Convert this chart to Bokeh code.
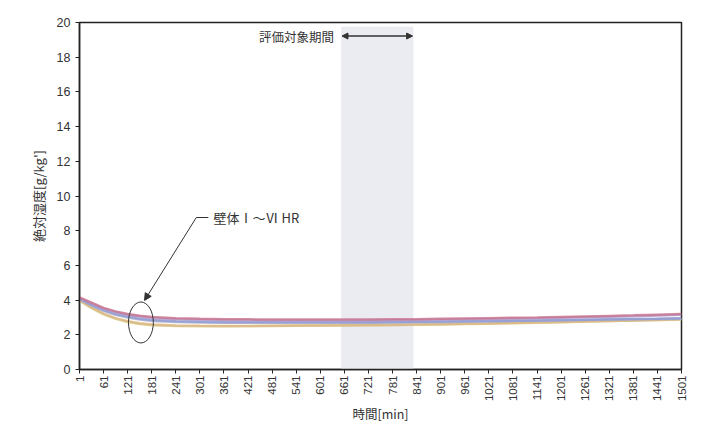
import math
from bokeh.plotting import figure
from bokeh.models import FixedTicker, Range1d, Arrow, NormalHead, Label
from bokeh.embed import file_html
from bokeh.resources import INLINE

# time [min]
t = [1, 31, 61, 91, 121, 151, 181, 241, 301, 361, 421, 481, 541, 601, 661,
     721, 781, 841, 901, 961, 1021, 1081, 1141, 1201, 1261, 1321, 1381, 1441, 1501]

# absolute humidity [g/kg'] for walls I..VI
hr_1 = [4.15, 3.85, 3.55, 3.35, 3.20, 3.10, 3.02, 2.95, 2.92, 2.90, 2.89, 2.88, 2.88, 2.88, 2.88,
        2.88, 2.89, 2.90, 2.92, 2.94, 2.96, 2.98, 3.00, 3.03, 3.06, 3.09, 3.12, 3.16, 3.20]
hr_2 = [4.12, 3.80, 3.50, 3.30, 3.15, 3.05, 2.97, 2.90, 2.87, 2.85, 2.84, 2.83, 2.83, 2.83, 2.83,
        2.83, 2.84, 2.85, 2.87, 2.89, 2.91, 2.93, 2.95, 2.98, 3.01, 3.04, 3.07, 3.11, 3.15]
hr_3 = [4.08, 3.72, 3.42, 3.20, 3.05, 2.93, 2.85, 2.78, 2.75, 2.73, 2.72, 2.72, 2.72, 2.72, 2.72,
        2.73, 2.74, 2.75, 2.76, 2.78, 2.79, 2.81, 2.83, 2.85, 2.87, 2.89, 2.91, 2.93, 2.96]
hr_4 = [4.05, 3.68, 3.38, 3.15, 3.00, 2.88, 2.80, 2.74, 2.71, 2.70, 2.69, 2.69, 2.69, 2.69, 2.70,
        2.70, 2.71, 2.72, 2.73, 2.75, 2.77, 2.79, 2.81, 2.83, 2.85, 2.87, 2.89, 2.91, 2.93]
hr_5 = [4.00, 3.58, 3.22, 2.96, 2.78, 2.66, 2.59, 2.54, 2.52, 2.51, 2.51, 2.52, 2.53, 2.54, 2.55,
        2.56, 2.57, 2.59, 2.61, 2.63, 2.65, 2.68, 2.71, 2.74, 2.77, 2.80, 2.83, 2.86, 2.90]
hr_6 = [3.97, 3.54, 3.18, 2.92, 2.74, 2.62, 2.55, 2.50, 2.49, 2.49, 2.50, 2.51, 2.52, 2.53, 2.54,
        2.55, 2.56, 2.58, 2.60, 2.62, 2.64, 2.67, 2.70, 2.73, 2.76, 2.79, 2.82, 2.85, 2.88]

series = [hr_6, hr_5, hr_4, hr_3, hr_2, hr_1]
colors = ["#d6d08a", "#dcb482", "#aab0c6", "#8f98d6", "#ab9ccc", "#c8708c"]

x_ticks = list(range(1, 1502, 60))
y_ticks = list(range(0, 21, 2))

# evaluation period
eval_start = [653]
eval_end = [833]

jp = "Noto Sans CJK JP"
num_font = "Liberation Sans"
ink = "#333333"

p = figure(width=706, height=428, output_backend="svg", toolbar_location=None,
           x_range=Range1d(1, 1501), y_range=Range1d(0, 20),
           min_border_left=79, min_border_right=25, min_border_top=22, min_border_bottom=59)
p.background_fill_color = "white"
p.border_fill_color = "white"
p.outline_line_color = "#222222"
p.outline_line_width = 1.5
p.grid.visible = False

# shaded evaluation band
p.quad(left=eval_start, right=eval_end, bottom=[0], top=[19.75],
       fill_color="#ebebf2", line_color=None)

for ys, c in zip(series, colors):
    p.line(t, ys, line_color=c, line_width=2.5, line_alpha=0.8)

# axes
xa = p.xaxis[0]
xa.ticker = FixedTicker(ticks=x_ticks)
xa.major_label_orientation = math.pi / 2
xa.major_label_text_font = num_font
xa.major_label_text_font_size = "11.5px"
xa.major_label_text_color = ink
xa.major_label_standoff = 2
xa.axis_line_color = "#222222"
xa.axis_line_width = 1.5
xa.major_tick_line_color = "#222222"
xa.major_tick_out = 4
xa.major_tick_in = 0
xa.minor_tick_line_color = None
xa.axis_label = "時間[min]"
xa.axis_label_text_font = jp
xa.axis_label_text_font_style = "normal"
xa.axis_label_text_font_size = "12.5px"
xa.axis_label_text_color = ink
xa.axis_label_standoff = 0

ya = p.yaxis[0]
ya.ticker = FixedTicker(ticks=y_ticks)
ya.major_label_text_font = num_font
ya.major_label_text_font_size = "12.5px"
ya.major_label_text_color = ink
ya.axis_line_color = "#222222"
ya.axis_line_width = 1.5
ya.major_tick_line_color = "#222222"
ya.major_tick_out = 4
ya.major_tick_in = 0
ya.minor_tick_line_color = None
ya.axis_label = "絶対湿度[g/kg']"
ya.axis_label_text_font = jp
ya.axis_label_text_font_style = "normal"
ya.axis_label_text_font_size = "13px"
ya.axis_label_text_color = ink
ya.axis_label_standoff = 6

# evaluation period annotation
p.add_layout(Arrow(start=NormalHead(size=6, fill_color=ink, line_color=ink),
                   end=NormalHead(size=6, fill_color=ink, line_color=ink),
                   x_start=eval_start[0] + 2, x_end=eval_end[0] - 2, y_start=19.22, y_end=19.22,
                   line_color=ink, line_width=1.5))
p.add_layout(Label(x=eval_start[0] - 18, y=19.22, text="評価対象期間", text_font=jp,
                   text_font_size="12.5px", text_color=ink, text_align="right",
                   text_baseline="middle"))

# circled series and leader line
p.ellipse(x=[154], y=[2.71], width=62, height=2.36, fill_color=None,
          line_color=ink, line_width=1)
p.segment(x0=[292], y0=[8.76], x1=[322], y1=[8.76], line_color=ink, line_width=1)
p.add_layout(Arrow(end=NormalHead(size=7, fill_color=ink, line_color=ink),
                   x_start=292, y_start=8.76, x_end=163, y_end=3.98,
                   line_color=ink, line_width=1))
p.add_layout(Label(x=335, y=8.76, text="壁体Ⅰ～Ⅵ HR", text_font=jp,
                   text_font_size="13px", text_color=ink, text_baseline="middle"))

open("out.html", "w").write(file_html(p, INLINE))
